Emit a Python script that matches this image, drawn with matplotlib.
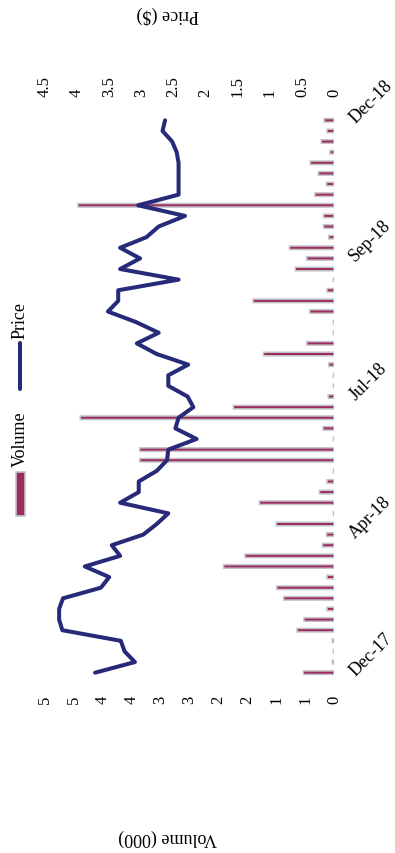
import numpy as np
import matplotlib
matplotlib.use("Agg")
import matplotlib.pyplot as plt
from matplotlib.patches import Rectangle
from matplotlib.lines import Line2D

plt.rcParams['font.family'] = ['Liberation Serif', 'DejaVu Serif']

# weekly trading, Dec-17 .. Dec-18
volume = [0.53, 0.03, 0.01, 0.03, 0.64, 0.52, 0.12, 0.87, 0.99, 0.12,
          1.91, 1.54, 0.20, 0.13, 1.00, 0.01, 1.29, 0.25, 0.12, 0.01,
          3.36, 3.36, 0.01, 0.19, 4.39, 1.74, 0.10, 0.01, 0.01, 0.09,
          1.22, 0.47, 0.01, 0.01, 0.42, 1.40, 0.12, 0.01, 0.67, 0.47,
          0.77, 0.09, 0.18, 0.18, 4.43, 0.33, 0.13, 0.27, 0.41, 0.07,
          0.22, 0.12, 0.17]
price = [3.72, 3.10, 3.26, 3.32, 4.23, 4.28, 4.28, 4.22, 3.63, 3.50,
         3.88, 3.33, 3.46, 2.97, 2.76, 2.58, 3.33, 3.04, 3.04, 2.76,
         2.60, 2.58, 2.14, 2.47, 2.42, 2.19, 2.28, 2.58, 2.58, 2.27,
         2.76, 3.07, 2.73, 3.08, 3.52, 3.36, 3.36, 2.42, 3.33, 3.02,
         3.33, 2.92, 2.73, 2.32, 3.05, 2.42, 2.42, 2.42, 2.42, 2.45,
         2.52, 2.67, 2.63]
date_labels = ["Dec-17", "Apr-18", "Jul-18", "Sep-18", "Dec-18"]
volume_ticks = [0, 0.5, 1, 1.5, 2, 2.5, 3, 3.5, 4, 4.5, 5]
volume_tick_labels = ["0", "1", "1", "2", "2", "3", "3", "4", "4", "5", "5"]
price_ticks = [0, 0.5, 1, 1.5, 2, 2.5, 3, 3.5, 4, 4.5]
price_tick_labels = ["0", "0.5", "1", "1.5", "2", "2.5", "3", "3.5", "4", "4.5"]

BAR_COLOR = "#9c2b60"
EDGE_COLOR = "#c3c3c6"
LINE_COLOR = "#262a78"

W, H = 395, 854


def clean(ax):
	for s in ax.spines.values():
		s.set_visible(False)
	ax.tick_params(length=0)


def main():
	fig = plt.figure(figsize=(W / 100, H / 100), dpi=100)
	ax = fig.add_axes([45 / W, 1 - 679 / H, 289 / W, 563 / H])

	n = len(volume)
	idx = np.arange(n)

	# volume bars, drawn sideways with zero on the right
	bars = ax.barh(idx, volume, height=0.33, color=BAR_COLOR,
				   edgecolor=EDGE_COLOR, linewidth=1.1, zorder=2)
	for b in bars:
		b.set_snap(False)
	ax.set_xlim(5, 0)
	ax.set_ylim(-0.5, n - 0.5)
	ax.set_xticks(volume_ticks)
	ax.set_xticklabels(volume_tick_labels, rotation=90, fontsize=12)
	ax.tick_params(axis='x', pad=12)
	ax.yaxis.tick_right()
	ax.set_yticks(idx[::13])
	ax.set_yticklabels(date_labels, rotation=45, fontsize=13,
					   rotation_mode='anchor', ha='left', va='center')
	ax.tick_params(axis='y', pad=13)
	clean(ax)

	# price on the opposite axis
	ax2 = ax.twiny()
	ax2.plot(price, idx, color=LINE_COLOR, lw=2.9, solid_joinstyle='round',
			 solid_capstyle='round', zorder=3)
	ax2.set_xlim(4.5, 0)
	ax2.set_xticks(price_ticks)
	ax2.set_xticklabels(price_tick_labels, rotation=90, fontsize=12)
	ax2.tick_params(axis='x', pad=14)
	clean(ax2)

	# titles and legend in pixel coordinates
	ov = fig.add_axes([0, 0, 1, 1], facecolor='none')
	ov.set_xlim(0, W)
	ov.set_ylim(H, 0)
	ov.axis('off')
	ov.text(168, 15, "Price ($)", rotation=180, fontsize=13,
			ha='center', va='center')
	ov.text(168, 838, "Volume (000)", rotation=180, fontsize=13,
			ha='center', va='center')

	ov.add_patch(Rectangle((15.5, 473), 9, 44, facecolor=BAR_COLOR,
						   edgecolor=EDGE_COLOR, linewidth=1.2))
	ov.text(20, 439, "Volume", rotation=90, fontsize=13, ha='center', va='center')
	ov.add_line(Line2D([20, 20], [344, 390], color=LINE_COLOR, lw=2.9,
					   solid_capstyle='round'))
	ov.text(20, 321, "Price", rotation=90, fontsize=13, ha='center', va='center')

	fig.savefig("out.png", dpi=100)


if __name__ == '__main__':
	main()
